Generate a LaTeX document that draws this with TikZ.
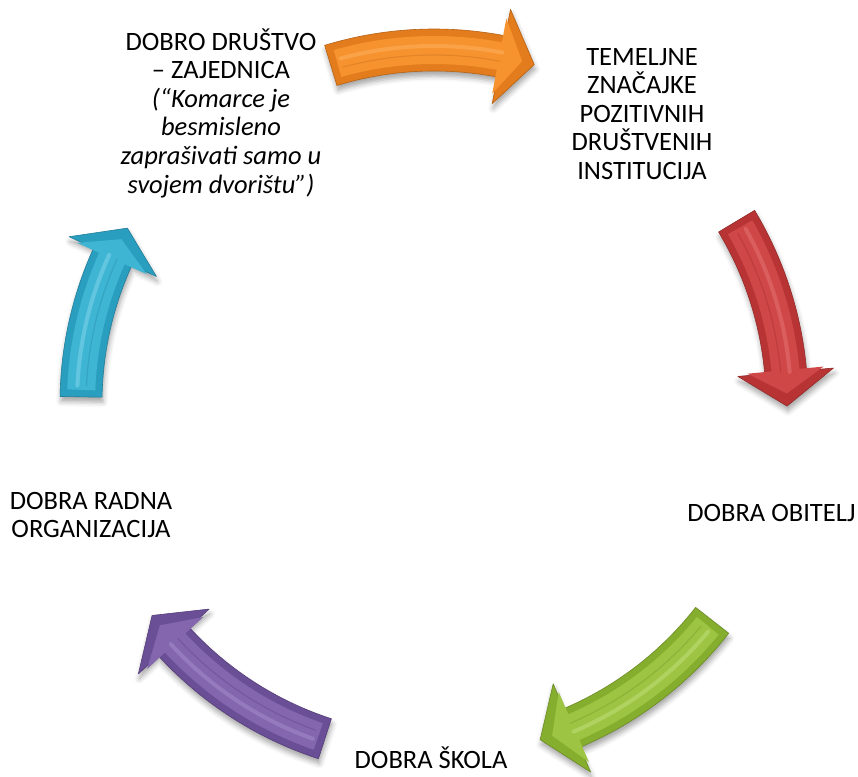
\documentclass[tikz,border=0pt]{standalone}
\usepackage{fontspec}
\setmainfont{Carlito}
\usetikzlibrary{shadows.blur}

% geometry of the ring of arrows (pt)
\def\R{353}      % radius of the centre line
\def\bw{21}      % half width of the body
\def\hw{48}      % half width of the head
\def\bev{7}      % bevel inset

% one curved block arrow running clockwise from angle #1 (tail) to #2 (end of body), tip at #3
\newcommand{\cyclearrow}[6]{%
  \pgfmathsetmacro\ro{\R+\bw}\pgfmathsetmacro\ri{\R-\bw}%
  \pgfmathsetmacro\bo{\R+\hw}\pgfmathsetmacro\binner{\R-\hw}%
  \pgfmathsetmacro\roi{\R+\bw-\bev}\pgfmathsetmacro\rii{\R-\bw+\bev}%
  \pgfmathsetmacro\boi{\R+\hw-1.4*\bev}\pgfmathsetmacro\bii{\R-\hw+1.4*\bev}%
  \pgfmathsetmacro\ai{#1-\bev/\R*57.3}\pgfmathsetmacro\ti{#3+1.8*\bev/\R*57.3}%
  \pgfmathsetmacro\bend{#2+0.3*\bev/\R*57.3}%
  \pgfmathsetmacro\rh{\R+4}\pgfmathsetmacro\rd{\R-5}%
  \pgfmathsetmacro\ah{#1-1.6*\bev/\R*57.3}%
  % body and bevelled rim
  \path[blur shadow={shadow xshift=1pt,shadow yshift=-5pt,shadow blur radius=5pt,shadow opacity=35},
        fill=#4, draw=#4!80!black, line width=0.6pt, line join=round]
    (#1:\ro pt) arc[start angle=#1, end angle=#2, radius=\ro pt]
    -- (#2:\bo pt) -- (#3:\R pt) -- (#2:\binner pt) -- (#2:\ri pt)
    arc[start angle=#2, end angle=#1, radius=\ri pt] -- cycle;
  % front face
  \fill[#5, line join=round]
    (\ai:\roi pt) arc[start angle=\ai, end angle=\bend, radius=\roi pt]
    -- (\bend:\boi pt) -- (\ti:\R pt) -- (\bend:\bii pt) -- (\bend:\rii pt)
    arc[start angle=\bend, end angle=\ai, radius=\rii pt] -- cycle;
  % gloss stripe along the face
  \draw[#6, line width=4pt, opacity=0.5, line cap=round]
    (\ah:\rh pt) arc[start angle=\ah, end angle=#2, radius=\rh pt];
  \draw[#4!85!black, line width=1.2pt, opacity=0.35]
    (\ah:\rd pt) arc[start angle=\ah, end angle=#2, radius=\rd pt];
}

\definecolor{orEdge}{HTML}{E27C1C}\definecolor{orFace}{HTML}{F7932F}\definecolor{orHi}{HTML}{FBB262}
\definecolor{rdEdge}{HTML}{B83434}\definecolor{rdFace}{HTML}{D04747}\definecolor{rdHi}{HTML}{E47676}
\definecolor{gnEdge}{HTML}{86AE2E}\definecolor{gnFace}{HTML}{9DC443}\definecolor{gnHi}{HTML}{C4E17F}
\definecolor{puEdge}{HTML}{6A4E96}\definecolor{puFace}{HTML}{8366AE}\definecolor{puHi}{HTML}{A88ECC}
\definecolor{cyEdge}{HTML}{2A9EBF}\definecolor{cyFace}{HTML}{3FB5D4}\definecolor{cyHi}{HTML}{88D7EC}

\begin{document}
\begin{tikzpicture}[x=1pt,y=1pt,
    label text/.style={font=\fontsize{26.5}{28.6}\selectfont, align=center, inner sep=0pt, text=black}]
  \useasboundingbox (0,0) rectangle (858,776);

  \begin{scope}[shift={(434,373)}]
    \cyclearrow{107}{79}{73.5}{orEdge}{orFace}{orHi}
    \cyclearrow{31}{5}{-0.5}{rdEdge}{rdFace}{rdHi}
    \cyclearrow{-38}{-67}{-72.5}{gnEdge}{gnFace}{gnHi}
    \cyclearrow{-108}{-137.5}{-143}{puEdge}{puFace}{puHi}
    \cyclearrow{179}{155.5}{150.3}{cyEdge}{cyFace}{cyHi}
  \end{scope}

  \node[label text] (drustvo) at (221,663)
    {DOBRO DRUŠTVO\\– ZAJEDNICA\\\textit{(“Komarce je}\\\textit{besmisleno}\\\textit{zaprašivati samo u}\\\textit{svojem dvorištu”)}};
  \node[label text] (institucije) at (642,662)
    {TEMELJNE\\ZNAČAJKE\\POZITIVNIH\\DRUŠTVENIH\\INSTITUCIJA};
  \node[label text, anchor=base] (obitelj) at (771.5,254) {DOBRA OBITELJ};
  \node[label text, anchor=base] (skola) at (431,8) {DOBRA ŠKOLA};
  \node[label text] (organizacija) at (91,261) {DOBRA RADNA\\ORGANIZACIJA};
\end{tikzpicture}
\end{document}
